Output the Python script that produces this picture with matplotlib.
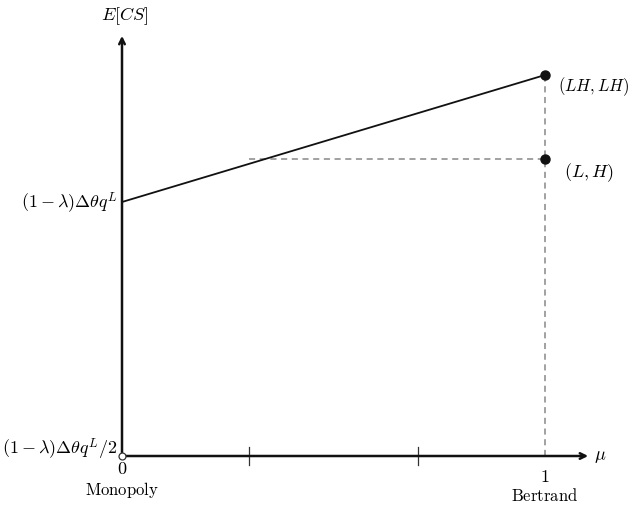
import matplotlib
matplotlib.use("Agg")
import matplotlib.pyplot as plt

plt.rcParams['mathtext.fontset'] = 'cm'
plt.rcParams['font.family'] = 'serif'
plt.rcParams['font.serif'] = ['DejaVu Serif']

# data
mu_line = [0.0, 1.0]
ecs_line = [1.0, 1.5]          # E[CS] along the solid line (monopoly -> Bertrand LH)
point_LH = (1.0, 1.5)
point_L_H = (1.0, 1.17)
dash_start_mu = 0.3
tick_mus = [0.3, 0.7]

fig = plt.figure(figsize=(6.33, 5.06), dpi=100)
ax = fig.add_axes([0, 0, 1, 1])
ax.set_xlim(-122/423, (633-122)/423)
ax.set_ylim(-49/254, 457/254)
ax.axis('off')

fs = 12
fm = 13
# axes with arrows
ax.annotate('', xy=(1.102, 0), xytext=(0, 0),
            arrowprops=dict(arrowstyle='->', lw=1.8, color='#111111', shrinkA=0, shrinkB=0))
ax.annotate('', xy=(0, 1.654), xytext=(0, 0),
            arrowprops=dict(arrowstyle='->', lw=1.8, color='#111111', shrinkA=0, shrinkB=0))

# ticks
for t in tick_mus:
    ax.plot([t, t], [-0.035, 0.035], color='#333333', lw=0.9)

# dashed guides
ax.plot([1, 1], [0, point_LH[1]], color='#888888', lw=1.1, ls=(0, (4, 3)))
ax.plot([dash_start_mu, 1], [point_L_H[1]]*2, color='#888888', lw=1.1, ls=(0, (4, 3)))

# solid line
ax.plot(mu_line, ecs_line, color='#111111', lw=1.3)

# points
ax.plot(*point_LH, 'o', color='#111111', ms=6.5, zorder=5)
ax.plot(*point_L_H, 'o', color='#111111', ms=6.5, zorder=5)
ax.plot(0, 0, 'o', mfc='white', mec='#333333', ms=5, mew=0.9, zorder=6)

# labels
ax.text(1.031, 1.457, r'$(LH,LH)$', fontsize=12, ha='left', va='center')
ax.text(1.045, 1.12, r'$(L,H)$', fontsize=fm, ha='left', va='center')
ax.text(-0.01, 1.0, r'$(1-\lambda)\Delta\theta q^L$', fontsize=fm, ha='right', va='center')
ax.text(-0.01, 0.03, r'$(1-\lambda)\Delta\theta q^L/2$', fontsize=fm, ha='right', va='center')
ax.text(0, -0.047, r'$0$', fontsize=fm, ha='center', va='center')
ax.text(0.0, -0.13, r'$\mathrm{Monopoly}$', fontsize=fs, ha='center', va='center')
ax.text(1, -0.08, r'$1$', fontsize=fm, ha='center', va='center')
ax.text(1, -0.157, r'$\mathrm{Bertrand}$', fontsize=fs, ha='center', va='center')
ax.text(1.115, 0.005, r'$\mu$', fontsize=fm, ha='left', va='center')
ax.text(0.005, 1.736, r'$E[CS]$', fontsize=fm, ha='center', va='center')

fig.savefig('out.png', dpi=100)
